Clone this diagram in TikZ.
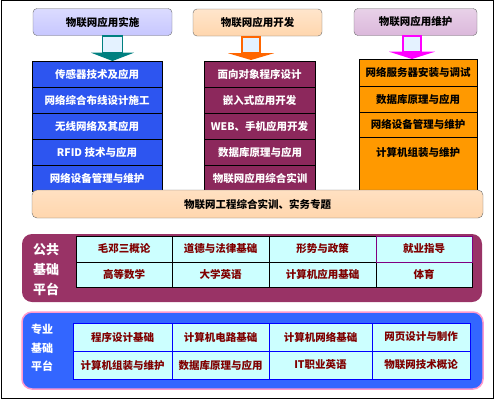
\documentclass[tikz,border=0pt]{standalone}
\usepackage{fontspec}
\newfontfamily\cjk{Noto Sans CJK SC}
\usetikzlibrary{calc}
\definecolor{colblue}{RGB}{45,85,240}
\definecolor{colpurple}{RGB}{140,40,92}
\definecolor{colorange}{RGB}{255,153,0}
\definecolor{pubpurple}{RGB}{153,51,102}
\definecolor{problue}{RGB}{51,102,255}
\definecolor{propink}{RGB}{255,153,204}
\definecolor{cellcyan}{RGB}{204,255,255}
\definecolor{celltext}{RGB}{128,0,0}
\definecolor{arrteal}{RGB}{0,128,128}
\definecolor{arrorange}{RGB}{255,102,0}
\definecolor{arrpink}{RGB}{255,0,255}
\definecolor{shaftfill}{RGB}{228,242,255}

\begin{document}
\begin{tikzpicture}[x=1pt,y=-1pt]
		 \tikzstyle{every node}+=[inner sep=0pt, font=\cjk\bfseries\fontsize{10.5}{12}\selectfont]
		 \tikzstyle{head}=[draw=gray!85!black, rounded corners=4pt, minimum height=27]
		 \tikzstyle{cell}=[draw=black, minimum height=26, text=white]
		 \tikzstyle{tcell}=[draw=black, fill=cellcyan, text=celltext]
		 \tikzstyle{pcell}=[draw=blue, fill=cellcyan, text=celltext, minimum height=28]
		 \tikzstyle{shaft}=[fill=shaftfill, line width=1.6pt]
		 \useasboundingbox (0,0) rectangle (494,400);
		 \draw [black, line width=0.8pt] (1,0.5) rectangle (493,398);
		 % headers
		 \node [head, minimum width=139, top color=blue!14, middle color=white, bottom color=blue!22] (h1) at (102.5,22) {物联网应用实施};
		 \node [head, minimum width=129, top color=orange!20, middle color=white, bottom color=orange!32] (h2) at (257.5,22.5) {物联网应用开发};
		 \node [head, minimum width=123, top color=violet!18, middle color=white, bottom color=violet!28] (h3) at (415.5,22) {物联网应用维护};
		 % arrow tips
		 \coordinate (t1) at (112.5,61);
		 \coordinate (t2) at (251,60);
		 \coordinate (t3) at (412,59);
		 \filldraw [shaft, draw=arrteal] ($(h1.south -| t1)+(-10,0.5)$) rectangle ($(h1.south -| t1)+(10,17)$);
		 \fill [arrteal] ($(h1.south -| t1)+(-21.5,17)$) -- ($(h1.south -| t1)+(21.5,17)$) -- (t1) -- cycle;
		 \filldraw [shaft, draw=arrorange] ($(h2.south -| t2)+(-9,0.5)$) rectangle ($(h2.south -| t2)+(9,17)$);
		 \fill [arrorange] ($(h2.south -| t2)+(-23,17)$) -- ($(h2.south -| t2)+(23,17)$) -- (t2) -- cycle;
		 \filldraw [shaft, draw=arrpink] ($(h3.south -| t3)+(-9,0.5)$) rectangle ($(h3.south -| t3)+(9,16)$);
		 \fill [arrpink] ($(h3.south -| t3)+(-23,16)$) -- ($(h3.south -| t3)+(23,16)$) -- (t3) -- cycle;
		 % columns
		 \node [cell, fill=colblue, minimum width=130] (b1) at (97,74) {传感器技术及应用};
		 \node [cell, fill=colblue, minimum width=130] (b2) at (97,100) {网络综合布线设计施工};
		 \node [cell, fill=colblue, minimum width=130] (b3) at (97,126) {无线网络及其应用};
		 \node [cell, fill=colblue, minimum width=130] (b4) at (97,152) {RFID 技术与应用};
		 \node [cell, fill=colblue, minimum width=130] (b5) at (97,178) {网络设备管理与维护};
		 \node [cell, fill=colpurple, minimum width=111] (p1) at (259.5,74) {面向对象程序设计};
		 \node [cell, fill=colpurple, minimum width=111] (p2) at (259.5,100) {嵌入式应用开发};
		 \node [cell, fill=colpurple, minimum width=111] (p3) at (259.5,126) {WEB、手机应用开发};
		 \node [cell, fill=colpurple, minimum width=111] (p4) at (260,152) {数据库原理与应用};
		 \node [cell, fill=colpurple, minimum width=111] (p5) at (260,178) {物联网应用综合实训};
		 \node [cell, fill=colorange, text=black, minimum width=118, minimum height=27] (o1) at (418,72.5) {网络服务器安装与调试};
		 \node [cell, fill=colorange, text=black, minimum width=118] (o2) at (418,99) {数据库原理与应用};
		 \node [cell, fill=colorange, text=black, minimum width=118, minimum height=25] (o3) at (418,124.5) {网络设备管理与维护};
		 \node [cell, fill=colorange, text=black, minimum width=118, minimum height=53, text depth=24pt] (o4) at (418,163.5) {计算机组装与维护};
		 % bottom bar
		 \node [head, minimum width=451, minimum height=28, rounded corners=5pt, top color=orange!24, middle color=white, bottom color=orange!32] (bar) at (257.5,204) {物联网工程综合实训、实务专题};
		 % public platform
		 \node [fill=pubpurple, rounded corners=10pt, minimum width=460, minimum height=68] (pub) at (252,268) {};
		 \node [text=white, align=center, font=\cjk\bfseries\fontsize{13}{20}\selectfont] (publab) at (46,270) {公共\\基础\\平台};
		 \node [tcell, minimum width=96, minimum height=26] (g11) at (124,249) {毛邓三概论};
		 \node [tcell, minimum width=97, minimum height=26] (g12) at (220.5,249) {道德与法律基础};
		 \node [tcell, minimum width=107, minimum height=26] (g13) at (322.5,249) {形势与政策};
		 \node [tcell, minimum width=96, minimum height=25] (g21) at (124,274.5) {高等数学};
		 \node [tcell, minimum width=97, minimum height=25] (g22) at (220.5,274.5) {大学英语};
		 \node [tcell, minimum width=107, minimum height=25] (g23) at (322.5,274.5) {计算机应用基础};
		 \node [tcell, minimum width=96, minimum height=25] (g24) at (424,274.5) {体育};
		 \node [tcell, draw=violet, minimum width=96, minimum height=26] (g14) at (424,249) {就业指导};
		 % professional platform
		 \node [fill=problue, draw=propink, line width=1.5pt, rounded corners=10pt, minimum width=461, minimum height=77] (pro) at (252.5,350.5) {};
		 \node [text=white, align=center, font=\cjk\bfseries\fontsize{11}{18.5}\selectfont] (prolab) at (42,348) {专业\\基础\\平台};
		 \node [pcell, minimum width=99] (s11) at (122.5,337) {程序设计基础};
		 \node [pcell, minimum width=97] (s12) at (220.5,337) {计算机电路基础};
		 \node [pcell, minimum width=103] (s13) at (320.5,337) {计算机网络基础};
		 \node [pcell, minimum width=98] (s14) at (421,337) {网页设计与制作};
		 \node [pcell, minimum width=99] (s21) at (122.5,365) {计算机组装与维护};
		 \node [pcell, minimum width=97] (s22) at (220.5,365) {数据库原理与应用};
		 \node [pcell, minimum width=103] (s23) at (320.5,365) {IT职业英语};
		 \node [pcell, minimum width=98] (s24) at (421,365) {物联网技术概论};
	 \end{tikzpicture}
\end{document}
